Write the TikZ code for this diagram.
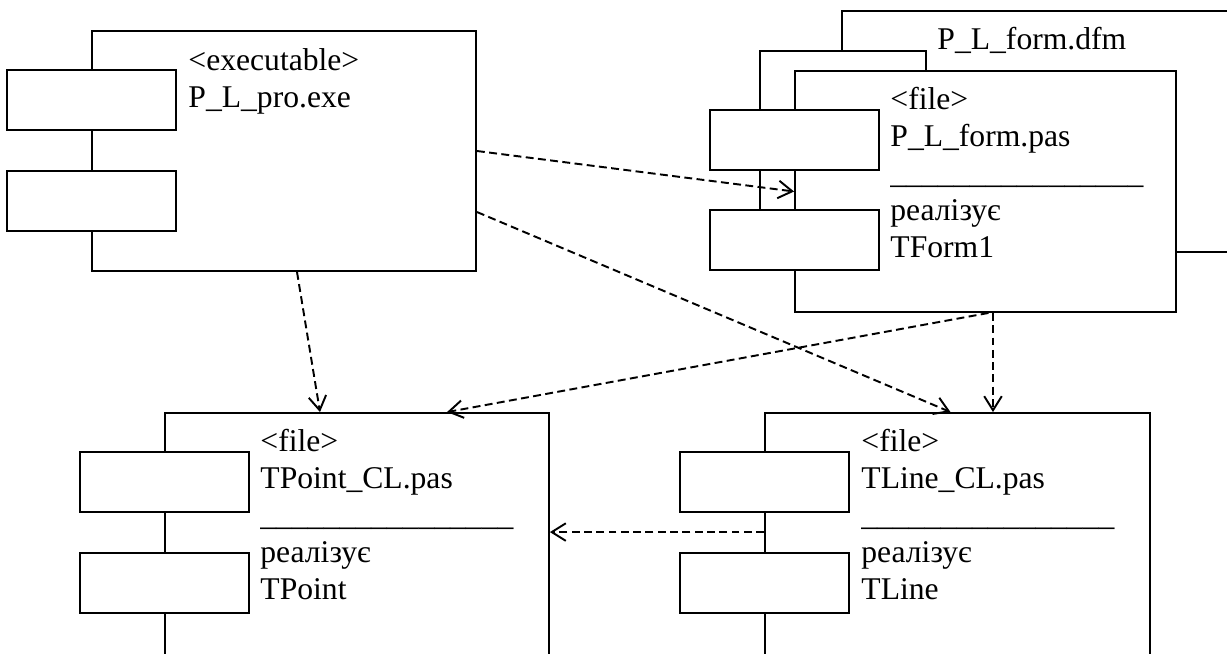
\documentclass[tikz,border=0pt]{standalone}
\usepackage{fontspec}
\setmainfont{Liberation Serif}
\usepackage{tikz}
\usetikzlibrary{calc, arrows.meta}
\tikzstyle{component} = [rectangle, draw=black, fill=white, line width=1.1pt, inner sep=0pt]
\tikzstyle{port} = [rectangle, draw=black, fill=white, line width=1.1pt, inner sep=0pt, minimum width=3.38cm, minimum height=1.2cm]
\tikzstyle{compText} = [anchor=base west, align=left, inner sep=0pt, font=\fontsize{18pt}{21pt}\selectfont]
\tikzstyle{depend} = [line width=1.1pt, dash pattern=on 4.5pt off 2.5pt, ->, >={Straight Barb[length=8pt,width=10pt]}]

\begin{document}
\begin{tikzpicture}[x=0.02cm, y=-0.02cm]
    \useasboundingbox (0,0) rectangle (1227,653);
    \clip (0,0) rectangle (1227,653);

    % executable
    \node (Exe) [component, minimum width=7.68cm, minimum height=4.8cm] at (284,151) {};
    \node (ExeTop) [port] at ($(Exe.north west)+(0,70)$) {};
    \node (ExeBottom) [port] at ($(Exe.north west)+(0,171)$) {};
    \node (ExeText) [compText] at ($(Exe.north west)+(97,77)$) {<executable>\\P\_L\_pro.exe};

    % form files
    \node (Dfm) [component, minimum width=8.36cm, minimum height=4.82cm] at (1051,131.5) {};
    \node (DfmText) [compText] at ($(Dfm.north west)+(96,39)$) {P\_L\_form.dfm};
    \node (FormBack) [component, minimum width=3.32cm, minimum height=3.98cm] at (843,150.5) {};
    \node (Form) [component, minimum width=7.62cm, minimum height=4.82cm] at (985.5,191.5) {};
    \node (FormTop) [port] at ($(Form.north west)+(0,70)$) {};
    \node (FormBottom) [port] at ($(Form.north west)+(0,170)$) {};
    \node (FormText) [compText] at ($(Form.north west)+(96,187)$) {<file>\\P\_L\_form.pas\\\_\_\_\_\_\_\_\_\_\_\_\_\_\_\_\_\\реалізує\\TForm1};

    % point class
    \node (Point) [component, minimum width=7.68cm, minimum height=5.94cm] at (357,561.5) {};
    \node (PointTop) [port] at ($(Point.north west)+(0,70)$) {};
    \node (PointBottom) [port] at ($(Point.north west)+(0,171)$) {};
    \node (PointText) [compText] at ($(Point.north west)+(96,187)$) {<file>\\TPoint\_CL.pas\\\_\_\_\_\_\_\_\_\_\_\_\_\_\_\_\_\\реалізує\\TPoint};

    % line class
    \node (Line) [component, minimum width=7.7cm, minimum height=5.94cm] at (957.5,561.5) {};
    \node (LineTop) [port] at ($(Line.north west)+(0,70)$) {};
    \node (LineBottom) [port] at ($(Line.north west)+(0,171)$) {};
    \node (LineText) [compText] at ($(Line.north west)+(97,187)$) {<file>\\TLine\_CL.pas\\\_\_\_\_\_\_\_\_\_\_\_\_\_\_\_\_\\реалізує\\TLine};

    % dependencies
    \draw [depend] (Exe.east) -- (Form.west);
    \draw [depend] ($(Exe.east)+(0,61)$) -- ($(Line.north)+(-7,0)$);
    \draw [depend] ($(Exe.south)+(13,0)$) -- ($(Point.north)+(-37,0)$);
    \draw [depend] ($(Form.south)+(3,0)$) -- ($(Point.north)+(90,0)$);
    \draw [depend] ($(Form.south)+(7.5,0)$) -- ($(Line.north)+(35.5,0)$);
    \draw [depend] ($(Line.north west)+(0,120)$) -- ($(Point.north east)+(0,120)$);
\end{tikzpicture}
\end{document}
